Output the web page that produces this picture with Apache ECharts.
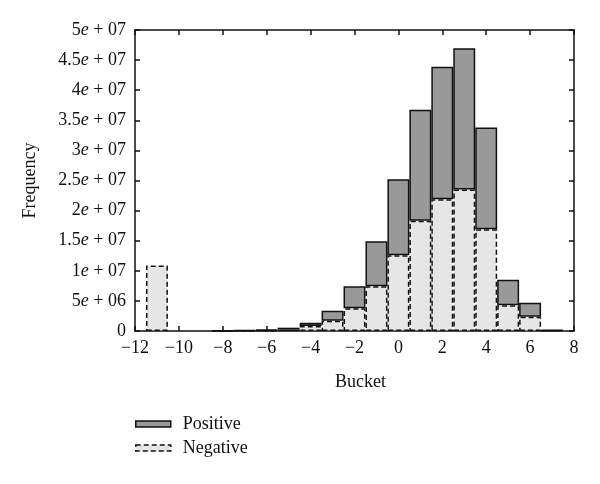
<!DOCTYPE html>
<html>
<head>
<meta charset="utf-8">
<script src="https://cdn.jsdelivr.net/npm/echarts@6/dist/echarts.min.js"></script>
<style>html,body{margin:0;padding:0;background:#fff}#c{width:600px;height:484px}</style>
</head>
<body>
<div id="c"></div>
<script>
var buckets = [-11,-10,-9,-8,-7,-6,-5,-4,-3,-2,-1,0,1,2,3,4,5,6,7];
var negative = [10.9e6,0,0,0.02e6,0.05e6,0.1e6,0.25e6,0.83e6,1.71e6,3.77e6,7.42e6,12.6e6,18.3e6,21.9e6,23.5e6,16.9e6,4.27e6,2.38e6,0.08e6];
var positive = [0,0,0,0.02e6,0.05e6,0.1e6,0.3e6,0.55e6,1.66e6,3.65e6,7.48e6,12.6e6,18.46e6,22.0e6,23.46e6,16.9e6,4.23e6,2.32e6,0.05e6];
var yTickLabels = ['0','5e + 06','1e + 07','1.5e + 07','2e + 07','2.5e + 07','3e + 07','3.5e + 07','4e + 07','4.5e + 07','5e + 07'];
var xTickLabels = ['\u221212','\u221210','\u22128','\u22126','\u22124','\u22122','0','2','4','6','8'];
var X_MIN = -12, X_MAX = 8;

var FONT = 'Liberation Serif';
var FS = 18;
function fmtY(v){
  var idx = Math.round(v/5e6);
  var s = yTickLabels[idx];
  if (s === undefined) return '';
  var i = s.indexOf('e');
  if (i < 0) return '{n|' + s + '}';
  return '{n|' + s.slice(0,i) + '}{e|e}{n|' + s.slice(i+1) + '}';
}
// hidden category axis spanning X_MIN..X_MAX, one slot per integer bucket
var cats = [];
for (var k = X_MIN; k <= X_MAX; k++) cats.push(String(k));
function aligned(arr){
  return cats.map(function(c){
    var i = buckets.indexOf(Number(c));
    if (i < 0 || !arr[i]) return '-';
    return arr[i];
  });
}
var chart = echarts.init(document.getElementById('c'), null, {renderer:'canvas'});
var axisLineStyle = {color:'#111', width:1.5};
var tick = {show:true, inside:true, length:5, lineStyle:axisLineStyle};
var option = {
  animation:false,
  backgroundColor:'#fff',
  textStyle:{fontFamily:FONT},
  grid:{left:135, top:30, right:26, bottom:153, containLabel:false},
  legend:{
    orient:'vertical', left:135, top:415, itemWidth:35, itemHeight:6, itemGap:6, padding:0,
    textStyle:{fontFamily:FONT, fontSize:FS, color:'#111', padding:[0,0,0,7]},
    data:[
      {name:'Positive', icon:'rect', itemStyle:{color:'#999999', borderColor:'#111', borderWidth:1.5}},
      {name:'Negative', icon:'rect', itemStyle:{color:'#e6e6e6', borderColor:'#111', borderWidth:1.5, borderType:[5,3]}}
    ]
  },
  xAxis:[{
    type:'category', data:cats, boundaryGap:false, position:'bottom',
    axisLine:{show:false}, axisTick:{show:false}, axisLabel:{show:false}, splitLine:{show:false}
  },{
    type:'value', min:X_MIN, max:X_MAX, interval:2, position:'bottom',
    name:'Bucket', nameLocation:'middle', nameGap:42,
    nameTextStyle:{fontFamily:FONT, fontSize:FS, color:'#111', padding:[0,0,0,12]},
    axisLine:{show:true, onZero:false, lineStyle:axisLineStyle},
    axisTick:tick,
    axisLabel:{fontFamily:FONT, fontSize:FS, color:'#111', margin:8,
      formatter:function(v){ return xTickLabels[Math.round((v - X_MIN)/2)]; }},
    splitLine:{show:false}
  },{
    type:'value', min:X_MIN, max:X_MAX, interval:2, position:'top',
    axisLine:{show:true, onZero:false, lineStyle:axisLineStyle},
    axisTick:tick, axisLabel:{show:false}, splitLine:{show:false}
  }],
  yAxis:[{
    type:'value', min:0, max:5e7, interval:5e6, position:'left',
    name:'Frequency', nameLocation:'middle', nameGap:96, nameRotate:90,
    nameTextStyle:{fontFamily:FONT, fontSize:FS, color:'#111'},
    axisLine:{show:true, onZero:false, lineStyle:axisLineStyle},
    axisTick:tick,
    axisLabel:{margin:9, formatter:fmtY,
      rich:{n:{fontFamily:FONT, fontSize:FS, color:'#111'}, e:{fontFamily:FONT, fontSize:FS, fontStyle:'italic', color:'#111'}}},
    splitLine:{show:false}
  },{
    type:'value', min:0, max:5e7, interval:5e6, position:'right',
    axisLine:{show:true, onZero:false, lineStyle:axisLineStyle},
    axisTick:tick, axisLabel:{show:false}, splitLine:{show:false}
  }],
  series:[{
    name:'Negative', type:'bar', stack:'s', barWidth:'100%', xAxisIndex:0, yAxisIndex:0, z:3,
    itemStyle:{color:'#e6e6e6', borderColor:'#111', borderWidth:1.5, borderType:[5,3]},
    data:aligned(negative)
  },{
    name:'Positive', type:'bar', stack:'s', barWidth:'100%', xAxisIndex:0, yAxisIndex:0, z:2,
    itemStyle:{color:'#999999', borderColor:'#111', borderWidth:1.5},
    data:aligned(positive)
  }]
};
chart.setOption(option);
</script>
</body>
</html>
